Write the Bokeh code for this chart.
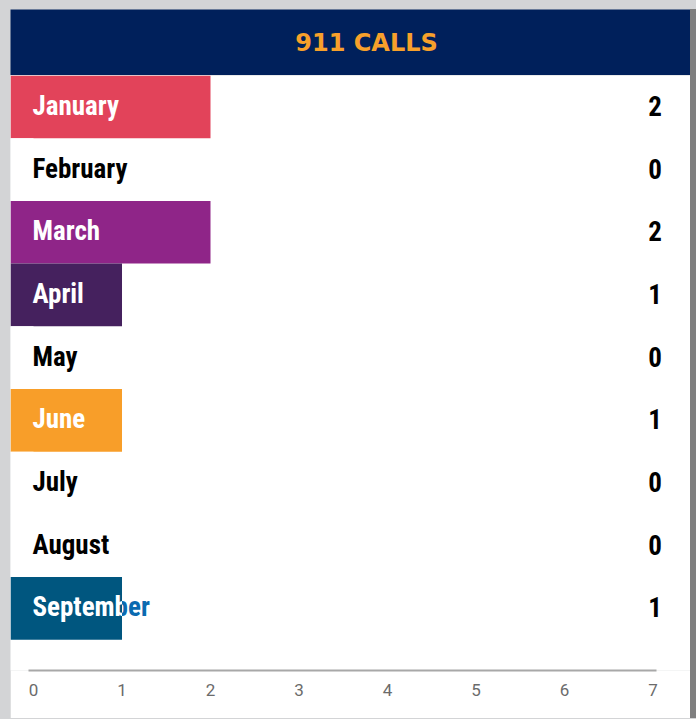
from bokeh.plotting import figure
from bokeh.models import Range1d, FixedTicker, Label, ColumnDataSource
from bokeh.layouts import column
from bokeh.core.properties import value
from bokeh.embed import file_html
from bokeh.resources import INLINE

# ---- data ----
months = ["January", "February", "March", "April", "May", "June", "July", "August", "September"]
calls = [2, 0, 2, 1, 0, 1, 0, 0, 1]
bar_colors = ["#e2435a", "#ffffff", "#8f2588", "#45215e", "#ffffff", "#f89e29", "#ffffff", "#ffffff", "#00567f"]
x_ticks = [0, 1, 2, 3, 4, 5, 6, 7]
title_text = "911 CALLS"
overflow_month = "September"      # label longer than its bar: white inside, blue outside

NAVY = "#00205b"
ORANGE = "#f7a02b"
OVERFLOW_BLUE = "#0a6ab0"
LABEL_FONT = "Roboto Condensed"

W, H = 680, 643
X0, X1 = -0.26, 7.424
Y0, Y1 = 8.99, -0.5
BOTTOM = 48

# ---- header ----
header = figure(width=W, height=66, output_backend="svg", toolbar_location=None,
                x_range=Range1d(0, 1), y_range=Range1d(0, 1),
                min_border=0, background_fill_color=NAVY, border_fill_color=NAVY)
header.axis.visible = False
header.grid.visible = False
header.outline_line_color = None
header.add_layout(Label(x=356, y=33, x_units="screen", y_units="screen", text=title_text,
                        text_align="center", text_baseline="middle",
                        text_color=ORANGE, text_font="DejaVu Sans",
                        text_font_style="bold", text_font_size="24px"))

# ---- main chart ----
idx = list(range(len(months)))
label_colors = [OVERFLOW_BLUE if m == overflow_month else ("#ffffff" if v > 0 else "#000000")
                for m, v in zip(months, calls)]
src = ColumnDataSource(dict(y=idx, month=months, calls=calls, val=[str(v) for v in calls],
                            color=bar_colors, lcolor=label_colors))

p = figure(width=W, height=H, output_backend="svg", toolbar_location=None,
           x_range=Range1d(X0, X1), y_range=Range1d(Y0, Y1),
           min_border_left=0, min_border_right=0, min_border_top=0, min_border_bottom=BOTTOM,
           background_fill_color="#ffffff", border_fill_color="#ffffff")
p.outline_line_color = None
p.grid.visible = False
p.yaxis.visible = False

p.hbar(y="y", left=p.x_range.start, right="calls", height=1.0, fill_color="color",
       line_color=None, source=src)

label_kw = dict(text_font=value(LABEL_FONT), text_font_style="bold", text_font_size="27px",
                text_align="left", text_baseline="middle", x_offset=-1, y_offset=-1)
p.text(x=0, y="y", text="month", source=src, text_color="lcolor", **label_kw)

p.text(x=7.1, y="y", text="val", source=src, text_color="#000000",
       text_font=value(LABEL_FONT), text_font_style="bold", text_font_size="27px",
       text_align="right", text_baseline="middle", y_offset=-1)

ax = p.xaxis[0]
ax.ticker = FixedTicker(ticks=x_ticks)
ax.bounds = (-0.06, 7.04)
ax.major_tick_line_color = None
ax.minor_tick_line_color = None
ax.axis_line_color = "#a8a8a8"
ax.axis_line_width = 2
ax.major_label_text_color = "#6b6b6b"
ax.major_label_text_font = "Roboto"
ax.major_label_text_font_size = "17px"
ax.major_label_standoff = 7

# ---- overlay: white part of the overflowing label, clipped to its bar ----
k = months.index(overflow_month)
px_per_unit = W / (X1 - X0)
bar_px = int(round((calls[k] - X0) * px_per_unit))
ov_src = ColumnDataSource(dict(y=[k], month=[months[k]]))
ov = figure(width=bar_px, height=H, output_backend="svg", toolbar_location=None,
            x_range=Range1d(X0, X0 + bar_px / px_per_unit), y_range=Range1d(Y0, Y1),
            min_border_left=0, min_border_right=0, min_border_top=0, min_border_bottom=BOTTOM,
            background_fill_alpha=0, border_fill_alpha=0, margin=(-H, 0, 0, 0))
ov.outline_line_color = None
ov.grid.visible = False
ov.axis.visible = False
ov.text(x=0, y="y", text="month", source=ov_src, text_color="#ffffff", **label_kw)

layout = column(header, p, ov, spacing=0, styles={"box-shadow": "6px 0px 0px #7f7f7f"})

html = file_html(layout, INLINE)
html = html.replace("</head>",
                    "<style>body{background:#d3d4d6;padding:9px 0 0 10px;}</style></head>", 1)
open("out.html", "w").write(html)
